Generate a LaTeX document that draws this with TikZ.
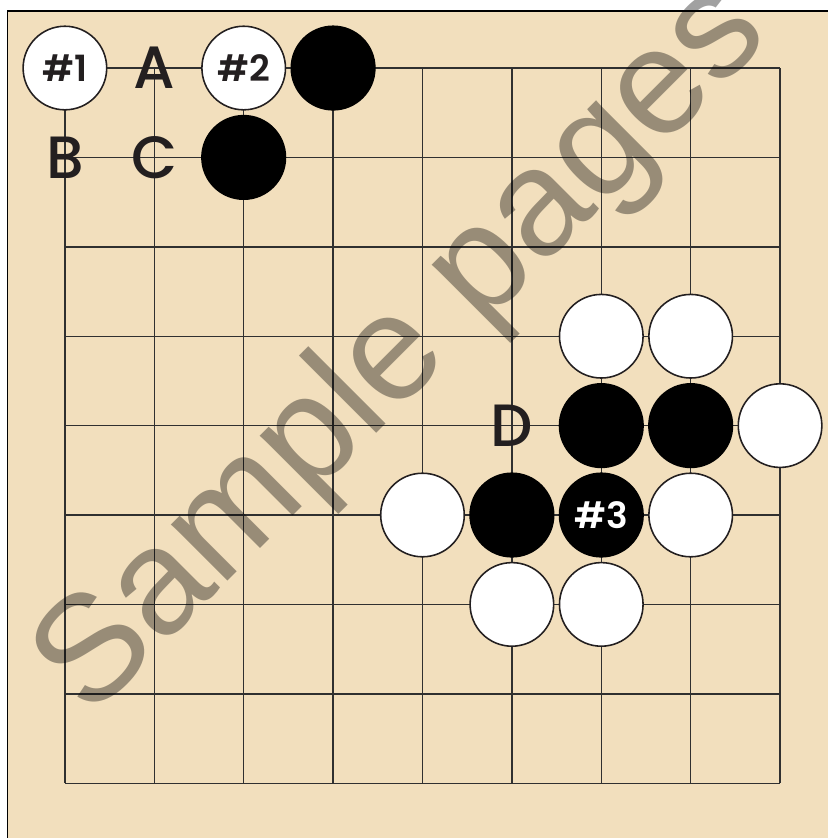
\documentclass[tikz,border=0pt]{standalone}
\usepackage{fontspec}
\newfontfamily\labelfont{Poppins Medium}
\newfontfamily\stonefont{Poppins SemiBold}
\newfontfamily\markfont{Liberation Sans}
\usetikzlibrary{positioning}
\definecolor{board}{HTML}{F2DFBD}
\definecolor{gridline}{HTML}{303030}
\definecolor{ink}{HTML}{231F20}

\begin{document}
\begin{tikzpicture}[
		stonew/.style={circle, draw=ink, line width=0.5pt, fill=white,
			minimum size=0.935cm, inner sep=0pt,
			font=\stonefont\fontsize{11.5}{12}\selectfont, text=ink},
		stoneb/.style={circle, draw=black, line width=0.5pt, fill=black,
			minimum size=0.935cm, inner sep=0pt,
			font=\stonefont\fontsize{11.5}{12}\selectfont, text=white},
		ptlabel/.style={inner sep=0pt, text=ink,
			font=\labelfont\fontsize{19}{19}\selectfont},
		gridln/.style={draw=gridline, line width=0.45pt}
		]
		\useasboundingbox (-0.726,0.761) rectangle (8.536,-8.613);
		
		% ── Board ──
		\fill[board] (-0.644,0.641) rectangle (8.536,-8.613);
		\draw[line width=0.5pt] (-0.644,-8.613) -- (-0.644,0.641) -- (8.536,0.641);
		\foreach \i in {0,...,8} {
			\draw[gridln] (\i,0) -- (\i,-8);
			\draw[gridln] (0,-\i) -- (8,-\i);
		}
		
		% ── Top left corner ──
		\node[stonew] (w1) at (0,0) {\#1};
		\node[ptlabel] (lblA) at (1,0) {A};
		\node[stonew] (w2) at (2,0) {\#2};
		\node[stoneb] (b1) at (3,0) {};
		\node[ptlabel] (lblB) at (0,-1) {B};
		\node[ptlabel] (lblC) at (1,-1) {C};
		\node[stoneb] (b2) at (2,-1) {};
		
		% ── Right side group ──
		\node[stonew] (w3) at (6,-3) {};
		\node[stonew] (w4) at (7,-3) {};
		\node[ptlabel] (lblD) at (5,-4) {D};
		\node[stoneb] (b3) at (6,-4) {};
		\node[stoneb] (b4) at (7,-4) {};
		\node[stonew] (w5) at (8,-4) {};
		\node[stonew] (w6) at (4,-5) {};
		\node[stoneb] (b5) at (5,-5) {};
		\node[stoneb] (b6) at (6,-5) {\#3};
		\node[stonew] (w7) at (7,-5) {};
		\node[stonew] (w8) at (5,-6) {};
		\node[stonew] (w9) at (6,-6) {};
		
		% ── Watermark ──
		\node[rotate=45, anchor=base, inner sep=0pt, text=black, text opacity=0.37,
			font=\markfont\fontsize{48}{48}\selectfont] (wmark) at (4.10,-3.47) {Sample pages};
	\end{tikzpicture}
\end{document}
